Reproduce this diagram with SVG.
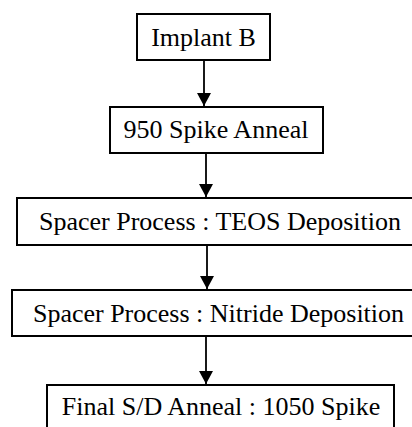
<svg xmlns="http://www.w3.org/2000/svg" width="412" height="427" viewBox="0 0 412 427">
<style>
.box{fill:#fff;stroke:#000;stroke-width:2}
.t{font-family:"Liberation Serif","Times New Roman",serif;font-size:26px;fill:#000;text-anchor:middle}
.c{stroke:#000;stroke-width:1.8;fill:none}
</style>
<defs>
<marker id="ah" viewBox="0 0 13 14" refX="13" refY="7" markerWidth="13" markerHeight="14" markerUnits="userSpaceOnUse" orient="auto">
<path d="M0,0 L13,7 L0,14 Z" fill="#000"/>
</marker>
</defs>
<rect width="412" height="427" fill="#fff"/>
<g id="connectors">
<line class="c" x1="204" y1="60" x2="204" y2="106" marker-end="url(#ah)"/>
<line class="c" x1="206" y1="153" x2="206" y2="197" marker-end="url(#ah)"/>
<line class="c" x1="207" y1="245" x2="207" y2="289" marker-end="url(#ah)"/>
<line class="c" x1="206" y1="336" x2="206" y2="384" marker-end="url(#ah)"/>
</g>
<g id="n1"><rect class="box" x="137" y="14" width="133" height="46"/><text class="t" x="203.5" y="46">Implant B</text></g>
<g id="n2"><rect class="box" x="110" y="107" width="213" height="46"/><text class="t" x="216" y="138">950 Spike Anneal</text></g>
<g id="n3"><rect class="box" x="17" y="198" width="400" height="47"/><text class="t" x="220" y="230">Spacer Process : TEOS Deposition</text></g>
<g id="n4"><rect class="box" x="12" y="290" width="405" height="46"/><text class="t" x="218.5" y="322">Spacer Process : Nitride Deposition</text></g>
<g id="n5"><rect class="box" x="47" y="385" width="347" height="50"/><text class="t" x="221" y="415">Final S/D Anneal : 1050 Spike</text></g>
</svg>
